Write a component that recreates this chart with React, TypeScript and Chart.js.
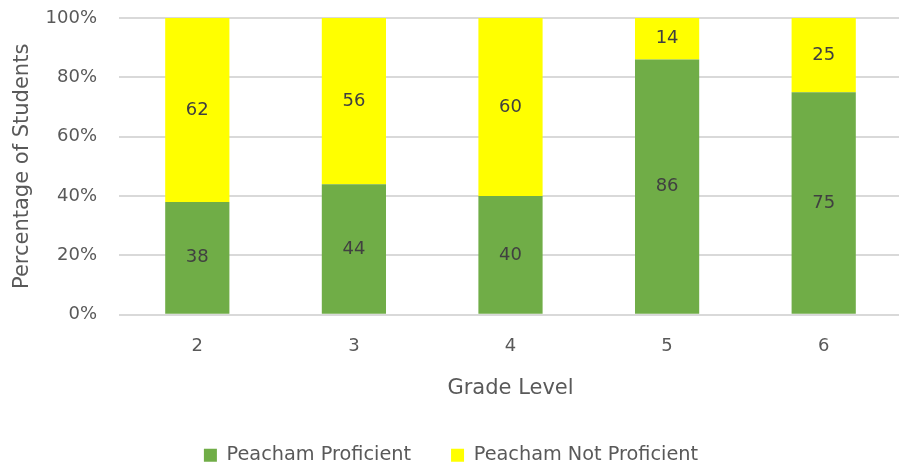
import React, { useEffect, useRef } from "react";
import { Chart, registerables } from "chart.js";

Chart.register(...registerables);

const grades = ["2", "3", "4", "5", "6"];
const proficient = [38, 44, 40, 86, 75];
const notProficient = [62, 56, 60, 14, 25];
const yTicks = [0, 20, 40, 60, 80, 100];

const FONT = "'DejaVu Sans', sans-serif";

const valueLabels = {
  id: "valueLabels",
  afterDatasetsDraw(chart: any) {
    const ctx = chart.ctx;
    ctx.save();
    ctx.font = `18px ${FONT}`;
    ctx.fillStyle = "#404040";
    ctx.textAlign = "center";
    ctx.textBaseline = "middle";
    chart.data.datasets.forEach((ds: any, i: number) => {
      const meta = chart.getDatasetMeta(i);
      meta.data.forEach((bar: any, j: number) => {
        const y = (bar.y + bar.base) / 2;
        ctx.fillText(String(ds.data[j]), bar.x, y);
      });
    });
    ctx.restore();
  },
};

export default function App() {
  const ref = useRef<HTMLCanvasElement>(null);
  useEffect(() => {
    if (!ref.current) return;
    const chart = new Chart(ref.current, {
      type: "bar",
      data: {
        labels: grades,
        datasets: [
          {
            label: "Peacham Proficient",
            data: proficient,
            backgroundColor: "#70ad47",
            barPercentage: 0.41,
            categoryPercentage: 1,
          },
          {
            label: "Peacham Not Proficient",
            data: notProficient,
            backgroundColor: "#ffff00",
            barPercentage: 0.41,
            categoryPercentage: 1,
          },
        ],
      },
      options: {
        responsive: false,
        animation: false,
        layout: { padding: { top: 18, right: 0, bottom: 0, left: 0 } },
        plugins: {
          legend: {
            position: "bottom",
            labels: {
              font: { family: FONT, size: 19.3 },
              color: "#595959",
              boxWidth: 13,
              boxHeight: 13,
              padding: 40,
            },
          },
          tooltip: { enabled: false },
        },
        scales: {
          x: {
            stacked: true,
            afterFit: (scale: any) => {
              scale.height = 91;
            },
            grid: { display: false, drawTicks: false },
            border: { display: false },
            ticks: { font: { family: FONT, size: 18 }, color: "#595959", padding: 21 },
            title: {
              display: true,
              text: "Grade Level",
              font: { family: FONT, size: 21 },
              color: "#595959",
              padding: { top: 0, bottom: 5 },
            },
          },
          y: {
            stacked: true,
            min: 0,
            max: 100,
            afterBuildTicks: (scale: any) => {
              scale.ticks = yTicks.map((v) => ({ value: v }));
            },
            afterFit: (scale: any) => {
              scale.width = 119;
              scale.paddingTop = 0;
              scale.paddingBottom = 0;
            },
            grid: { color: "#d9d9d9", lineWidth: 2, drawTicks: false },
            border: { display: false },
            ticks: {
              font: { family: FONT, size: 18 },
              color: "#595959",
              padding: 22,
              callback: (v: any) => `${v}%`,
            },
            title: {
              display: true,
              text: "Percentage of Students",
              font: { family: FONT, size: 21 },
              color: "#595959",
              padding: { top: 10, bottom: 0 },
            },
          },
        },
      },
      plugins: [valueLabels],
    });
    return () => chart.destroy();
  }, []);
  return (
    <div style={{ position: "absolute", left: 0, top: 0, width: 899, height: 468, overflow: "hidden", background: "#fff" }}>
      <canvas ref={ref} width={902} height={475} style={{ display: "block" }} />
    </div>
  );
}
